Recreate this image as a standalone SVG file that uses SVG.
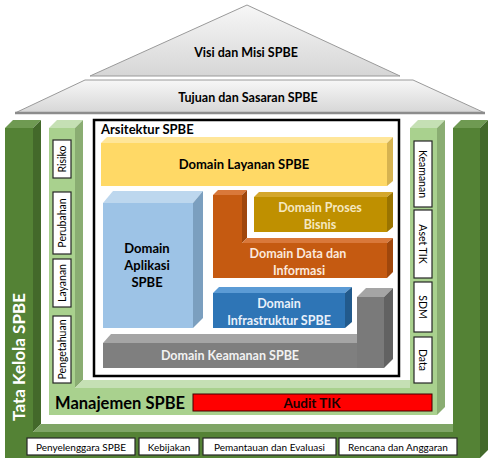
<svg xmlns="http://www.w3.org/2000/svg" width="499" height="468" viewBox="0 0 499 468">
<defs>
<linearGradient id="roof" x1="0" y1="0" x2="0" y2="1">
<stop offset="0" stop-color="#f7f7f7"/>
<stop offset="1" stop-color="#d6d6d6"/>
</linearGradient>
<style>
text{font-family:Lato,"Liberation Sans",sans-serif;font-weight:bold;text-anchor:middle}
.lab{font-weight:normal;font-size:10px;fill:#000}
.vl{font-size:10.5px}
.box{fill:#fff;stroke:#262626;stroke-width:1.2}
.roof{fill:url(#roof);stroke:#9a9a9a;stroke-width:1}
.dgF{fill:#548235}.dgT{fill:#6f9a52}.dgS{fill:#43692a}.dgB{fill:#7fa566}
.lgF{fill:#a9d18e}.lgT{fill:#c5e0b4}.lgS{fill:#8aad72}
.w{fill:#fff}.b{fill:#000}
</style>
</defs>
<rect width="499" height="468" fill="#fff"/>

<g id="roof-visi">
<polygon class="roof" points="247,5 400,76 90,76"/>
<text x="246" y="57" font-size="12.5" class="b">Visi dan Misi SPBE</text>
</g>
<g id="roof-tujuan">
<polygon class="roof" points="85,80 413,80 485,113 15,113"/>
<line x1="15" y1="113" x2="485" y2="113" stroke="#8c8c8c" stroke-width="2.5"/>
<text x="248" y="102" font-size="12.5" class="b">Tujuan dan Sasaran SPBE</text>
</g>

<g id="tata-kelola">
<rect class="dgF" x="5" y="128" width="28" height="330"/>
<polygon class="dgT" points="5,128 13,120 41,120 33,128"/>
<polygon class="dgS" points="33,128 41,120 41,424 33,432"/>
<polygon class="dgB" points="33,432 41,424 453,424 453,432"/>
<rect class="dgF" x="5" y="432" width="475" height="26"/>
<rect class="dgF" x="453" y="128" width="27" height="330"/>
<polygon class="dgT" points="453,128 461,120 488,120 480,128"/>
<polygon class="dgS" points="480,128 488,120 488,450 480,458"/>
<text transform="translate(25,357) rotate(-90)" font-size="17" class="w">Tata Kelola SPBE</text>
</g>

<g id="manajemen">
<rect class="lgF" x="49" y="128" width="26" height="287"/>
<polygon class="lgT" points="49,128 57,120 83,120 75,128"/>
<polygon class="lgS" points="75,128 83,120 83,380 75,388"/>
<polygon class="lgT" points="75,388 83,380 410,380 410,388"/>
<rect class="lgF" x="49" y="388" width="388" height="27"/>
<rect class="lgF" x="410" y="128" width="27" height="287"/>
<polygon class="lgT" points="410,128 418,120 445,120 437,128"/>
<polygon class="lgS" points="437,128 445,120 445,407 437,415"/>
<text x="120" y="409" font-size="16.5" class="b">Manajemen SPBE</text>
</g>

<g id="audit-tik">
<rect x="193" y="394" width="239" height="17" fill="#ff0000" stroke="#400000" stroke-width="1"/>
<text x="312" y="408" font-size="13.5" fill="#1a0000">Audit TIK</text>
</g>

<g id="risiko"><rect class="box" x="53" y="140" width="18" height="38"/><text class="lab vl" transform="translate(65.7,159) rotate(-90)">Risiko</text></g>
<g id="perubahan"><rect class="box" x="53" y="192" width="18" height="62"/><text class="lab vl" transform="translate(65.7,223) rotate(-90)">Perubahan</text></g>
<g id="layanan"><rect class="box" x="53" y="259" width="18" height="48"/><text class="lab vl" transform="translate(65.7,283) rotate(-90)">Layanan</text></g>
<g id="pengetahuan"><rect class="box" x="53" y="316" width="18" height="67"/><text class="lab vl" transform="translate(65.7,349.5) rotate(-90)">Pengetahuan</text></g>

<g id="keamanan"><rect class="box" x="414" y="141" width="18" height="66"/><text class="lab vl" transform="translate(419.3,174) rotate(90)">Keamanan</text></g>
<g id="aset-tik"><rect class="box" x="414" y="210" width="18" height="68"/><text class="lab vl" transform="translate(419.3,244) rotate(90)">Aset TIK</text></g>
<g id="sdm"><rect class="box" x="414" y="282" width="18" height="50"/><text class="lab vl" transform="translate(419.3,307) rotate(90)">SDM</text></g>
<g id="data"><rect class="box" x="414" y="337" width="18" height="46"/><text class="lab vl" transform="translate(419.3,360) rotate(90)">Data</text></g>

<g id="penyelenggara"><rect class="box" x="27" y="438" width="108" height="17"/><text class="lab" x="81" y="450.5">Penyelenggara SPBE</text></g>
<g id="kebijakan"><rect class="box" x="139" y="438" width="60" height="17"/><text class="lab" x="169" y="450.5">Kebijakan</text></g>
<g id="pemantauan"><rect class="box" x="203" y="438" width="133" height="17"/><text class="lab" x="269.5" y="450.5">Pemantauan dan Evaluasi</text></g>
<g id="rencana"><rect class="box" x="339" y="438" width="118" height="17"/><text class="lab" x="398" y="450.5">Rencana dan Anggaran</text></g>

<g id="arsitektur">
<rect x="94" y="120" width="305" height="256" fill="#fff" stroke="#000" stroke-width="2.5"/>
<text x="101" y="134" font-size="13" class="b" style="text-anchor:start">Arsitektur SPBE</text>
</g>

<g id="domain-layanan">
<rect x="101" y="143" width="286" height="43" fill="#ffd966"/>
<polygon points="101,143 107,137 393,137 387,143" fill="#ffe699"/>
<polygon points="387,143 393,137 393,181 387,186" fill="#d6b350"/>
<text x="244" y="169" font-size="13" class="b">Domain Layanan SPBE</text>
</g>

<g id="domain-aplikasi">
<rect x="103" y="203" width="90" height="125" fill="#9dc3e6"/>
<polygon points="103,203 113,191 203,191 193,203" fill="#bdd7ee"/>
<polygon points="193,203 203,191 203,318 193,328" fill="#7b9fbf"/>
<text x="147" y="253" font-size="13" class="b">Domain</text>
<text x="147" y="270" font-size="13" class="b">Aplikasi</text>
<text x="147" y="287" font-size="13" class="b">SPBE</text>
</g>

<g id="domain-proses-bisnis">
<rect x="254" y="197" width="133" height="35" fill="#bf9000"/>
<polygon points="254,197 259,192 393,192 387,197" fill="#d4a72c"/>
<polygon points="387,197 393,192 393,227 387,232" fill="#9a7400"/>
<text x="320" y="212" font-size="12.5" fill="#f5e8c0">Domain Proses</text>
<text x="320" y="229" font-size="12.5" fill="#f5e8c0">Bisnis</text>
</g>

<g id="domain-data">
<polygon points="213,195 242,195 242,243 387,243 387,278 213,278" fill="#c55a11"/>
<polygon points="213,195 218,190 247,190 242,195" fill="#d9783a"/>
<polygon points="242,195 247,190 247,238 242,243" fill="#a0470c"/>
<polygon points="242,243 247,238 393,238 387,243" fill="#d9783a"/>
<polygon points="387,243 393,238 393,272 387,278" fill="#a0470c"/>
<text x="298" y="258" font-size="12.5" fill="#fbe9dd">Domain Data dan</text>
<text x="299" y="275" font-size="12.5" fill="#fbe9dd">Informasi</text>
</g>

<g id="domain-infrastruktur">
<rect x="213" y="293" width="132" height="35" fill="#2e75b6"/>
<polygon points="213,293 219,287 352,287 345,293" fill="#5b9bd5"/>
<polygon points="345,293 352,287 352,322 345,328" fill="#225a8c"/>
<text x="279" y="308" font-size="12.5" fill="#e8f0fa">Domain</text>
<text x="279" y="325" font-size="12.5" fill="#e8f0fa">Infrastruktur SPBE</text>
</g>

<g id="domain-keamanan">
<polygon points="103,343 357,343 357,297 384,297 384,368 103,368" fill="#7f7f7f"/>
<rect x="357" y="297" width="27" height="71" fill="#7a7a7a"/>
<polygon points="103,343 111,334 357,334 357,343" fill="#a5a5a5"/>
<polygon points="357,297 366,288 393,288 384,297" fill="#a5a5a5"/>
<polygon points="384,297 393,288 393,359 384,368" fill="#626262"/>
<text x="230" y="360" font-size="12.5" fill="#f2f2f2">Domain Keamanan SPBE</text>
</g>

<g id="connectors"></g>
</svg>
